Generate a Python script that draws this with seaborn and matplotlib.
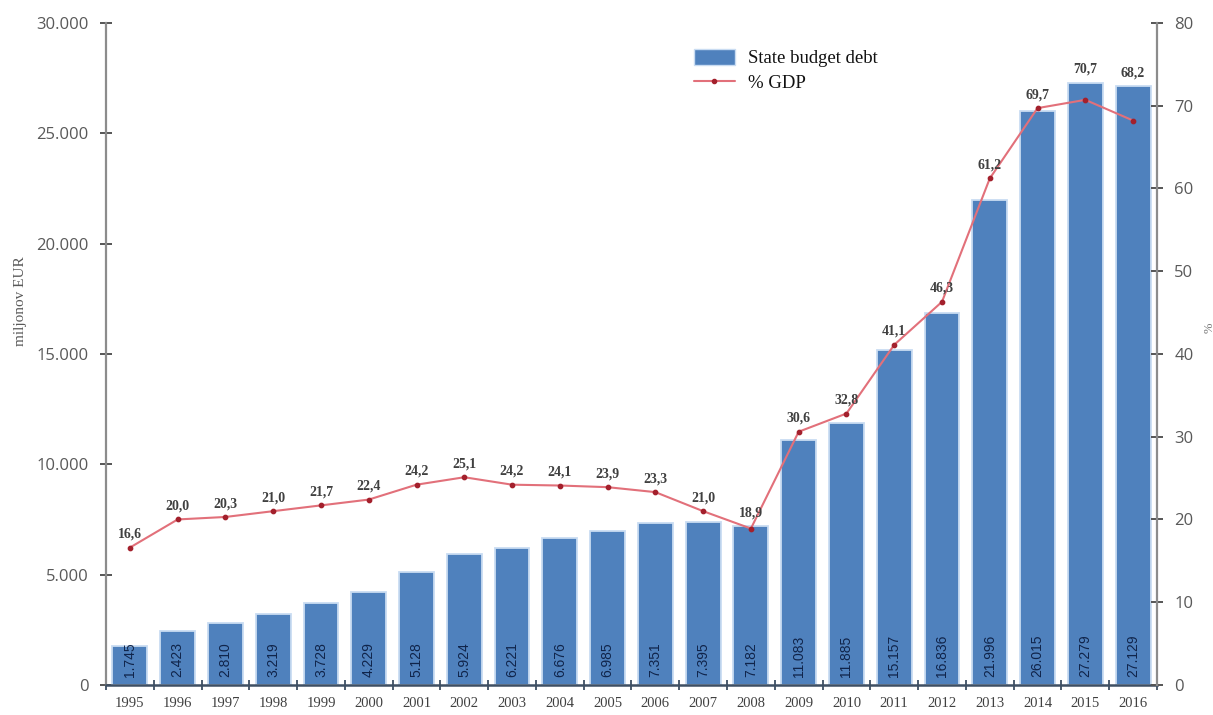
import matplotlib
matplotlib.use("Agg")
import matplotlib.pyplot as plt
import seaborn as sns
import pandas as pd
import numpy as np
from matplotlib.ticker import FixedLocator, FuncFormatter
from matplotlib.patches import Patch
from matplotlib.lines import Line2D

years = [1995, 1996, 1997, 1998, 1999, 2000, 2001, 2002, 2003, 2004, 2005,
         2006, 2007, 2008, 2009, 2010, 2011, 2012, 2013, 2014, 2015, 2016]
debt = [1745, 2423, 2810, 3219, 3728, 4229, 5128, 5924, 6221, 6676, 6985,
        7351, 7395, 7182, 11083, 11885, 15157, 16836, 21996, 26015, 27279, 27129]
gdp = [16.6, 20.0, 20.3, 21.0, 21.7, 22.4, 24.2, 25.1, 24.2, 24.1, 23.9,
       23.3, 21.0, 18.9, 30.6, 32.8, 41.1, 46.3, 61.2, 69.7, 70.7, 68.2]
left_ticks = [0, 5000, 10000, 15000, 20000, 25000, 30000]
right_ticks = [0, 10, 20, 30, 40, 50, 60, 70, 80]

sns.set_theme(style="white")
plt.rcParams["font.family"] = ["Liberation Serif", "DejaVu Sans"]

df = pd.DataFrame({"year": [str(y) for y in years], "debt": debt, "gdp": gdp})

fig = plt.figure(figsize=(12.13, 7.15), dpi=100)
ax = fig.add_axes([0.0874, 0.042, 0.8664, 0.926])

BAR = "#4F81BD"
LINE = "#E2707A"
MARK = "#A3202C"
AXC = "#8C8C8C"

sns.barplot(data=df, x="year", y="debt", color=BAR, saturation=1, width=0.73,
            edgecolor="#C9DCF2", linewidth=1.3, ax=ax)
ax.set_ylim(0, 30000)
ax.set_xlim(-0.5, len(years) - 0.5)

ax2 = ax.twinx()
sns.pointplot(data=df, x="year", y="gdp", color=LINE, markers="o",
              markersize=3, linewidth=1.5, ax=ax2)
for ln in ax2.lines:
    ln.set_markerfacecolor(MARK)
    ln.set_markeredgecolor(MARK)
ax2.set_ylim(0, 80)
ax2.set_xlim(-0.5, len(years) - 0.5)

# spines
for a in (ax, ax2):
    a.spines["top"].set_visible(False)
    a.grid(False)
ax.spines["left"].set_color(AXC)
ax.spines["left"].set_linewidth(1.6)
ax.spines["right"].set_visible(False)
ax2.spines["left"].set_visible(False)
ax2.spines["bottom"].set_visible(False)
ax2.spines["right"].set_color(AXC)
ax2.spines["right"].set_linewidth(1.6)
ax.spines["bottom"].set_color("#3E4F63")
ax.spines["bottom"].set_linewidth(1.8)

# left axis
ax.yaxis.set_major_locator(FixedLocator(left_ticks))
ax.yaxis.set_major_formatter(FuncFormatter(lambda v, p: f"{int(v):,}".replace(",", ".")))
ax.tick_params(axis="y", direction="inout", length=9, width=1.4, color="#555555",
               labelsize=12, labelcolor="#595959", pad=8, left=True)
for t in ax.get_yticklabels():
    t.set_fontfamily("Open Sans")
ax.set_ylabel("miljonov EUR", fontsize=11, color="#595959")
ax.yaxis.set_label_coords(-0.075, 0.58)

# right axis
ax2.yaxis.set_major_locator(FixedLocator(right_ticks))
ax2.tick_params(axis="y", direction="inout", length=9, width=1.4, color="#555555",
                labelsize=12, labelcolor="#595959", pad=8, right=True)
for t in ax2.get_yticklabels():
    t.set_fontfamily("Open Sans")
ax2.set_ylabel("%", fontsize=9, color="#777777", rotation=90)
ax2.yaxis.set_label_coords(1.044, 0.54)

# x axis: labels at categories, ticks at boundaries
ax.set_xlabel("")
ax.tick_params(axis="x", which="major", length=0, labelsize=10.5,
               labelcolor="#404040", pad=9, bottom=False)
ax.xaxis.set_minor_locator(FixedLocator(np.arange(-0.5, len(years), 1.0)))
ax.tick_params(axis="x", which="minor", direction="inout", length=7, width=1.3,
               color="#3E4F63", bottom=True)
ax2.tick_params(axis="x", which="both", length=0, labelbottom=False, bottom=False)
ax2.set_xlabel("")

# bar value labels (rotated, inside bars)
for i, v in enumerate(debt):
    ax.annotate(f"{v:,}".replace(",", "."), xy=(i, 0), xytext=(0, 6),
                textcoords="offset points", rotation=90, ha="center", va="bottom",
                fontsize=10, color="#10244A", family="Liberation Sans")

# % GDP labels
for i, g in enumerate(gdp):
    bar_top = debt[i] / 30000 * 80
    base = max(g, bar_top)
    ax2.annotate(f"{g:.1f}".replace(".", ","), xy=(i, base), xytext=(0, 5),
                 textcoords="offset points", ha="center", va="bottom",
                 fontsize=10, color="#404040", fontweight="bold")

# legend
handles = [Patch(facecolor=BAR, edgecolor="#C9DCF2"),
           Line2D([0], [0], color=LINE, lw=1.5, marker="o", markersize=3,
                  markerfacecolor=MARK, markeredgecolor=MARK)]
leg = fig.legend(handles, ["State budget debt", "% GDP"], loc="upper left",
                 bbox_to_anchor=(0.558, 0.955), frameon=False, fontsize=13.5,
                 handlelength=2.2, handleheight=0.9, labelspacing=0.35,
                 handletextpad=0.7)
for t in leg.get_texts():
    t.set_color("#111111")

fig.savefig("out.png", dpi=100)
